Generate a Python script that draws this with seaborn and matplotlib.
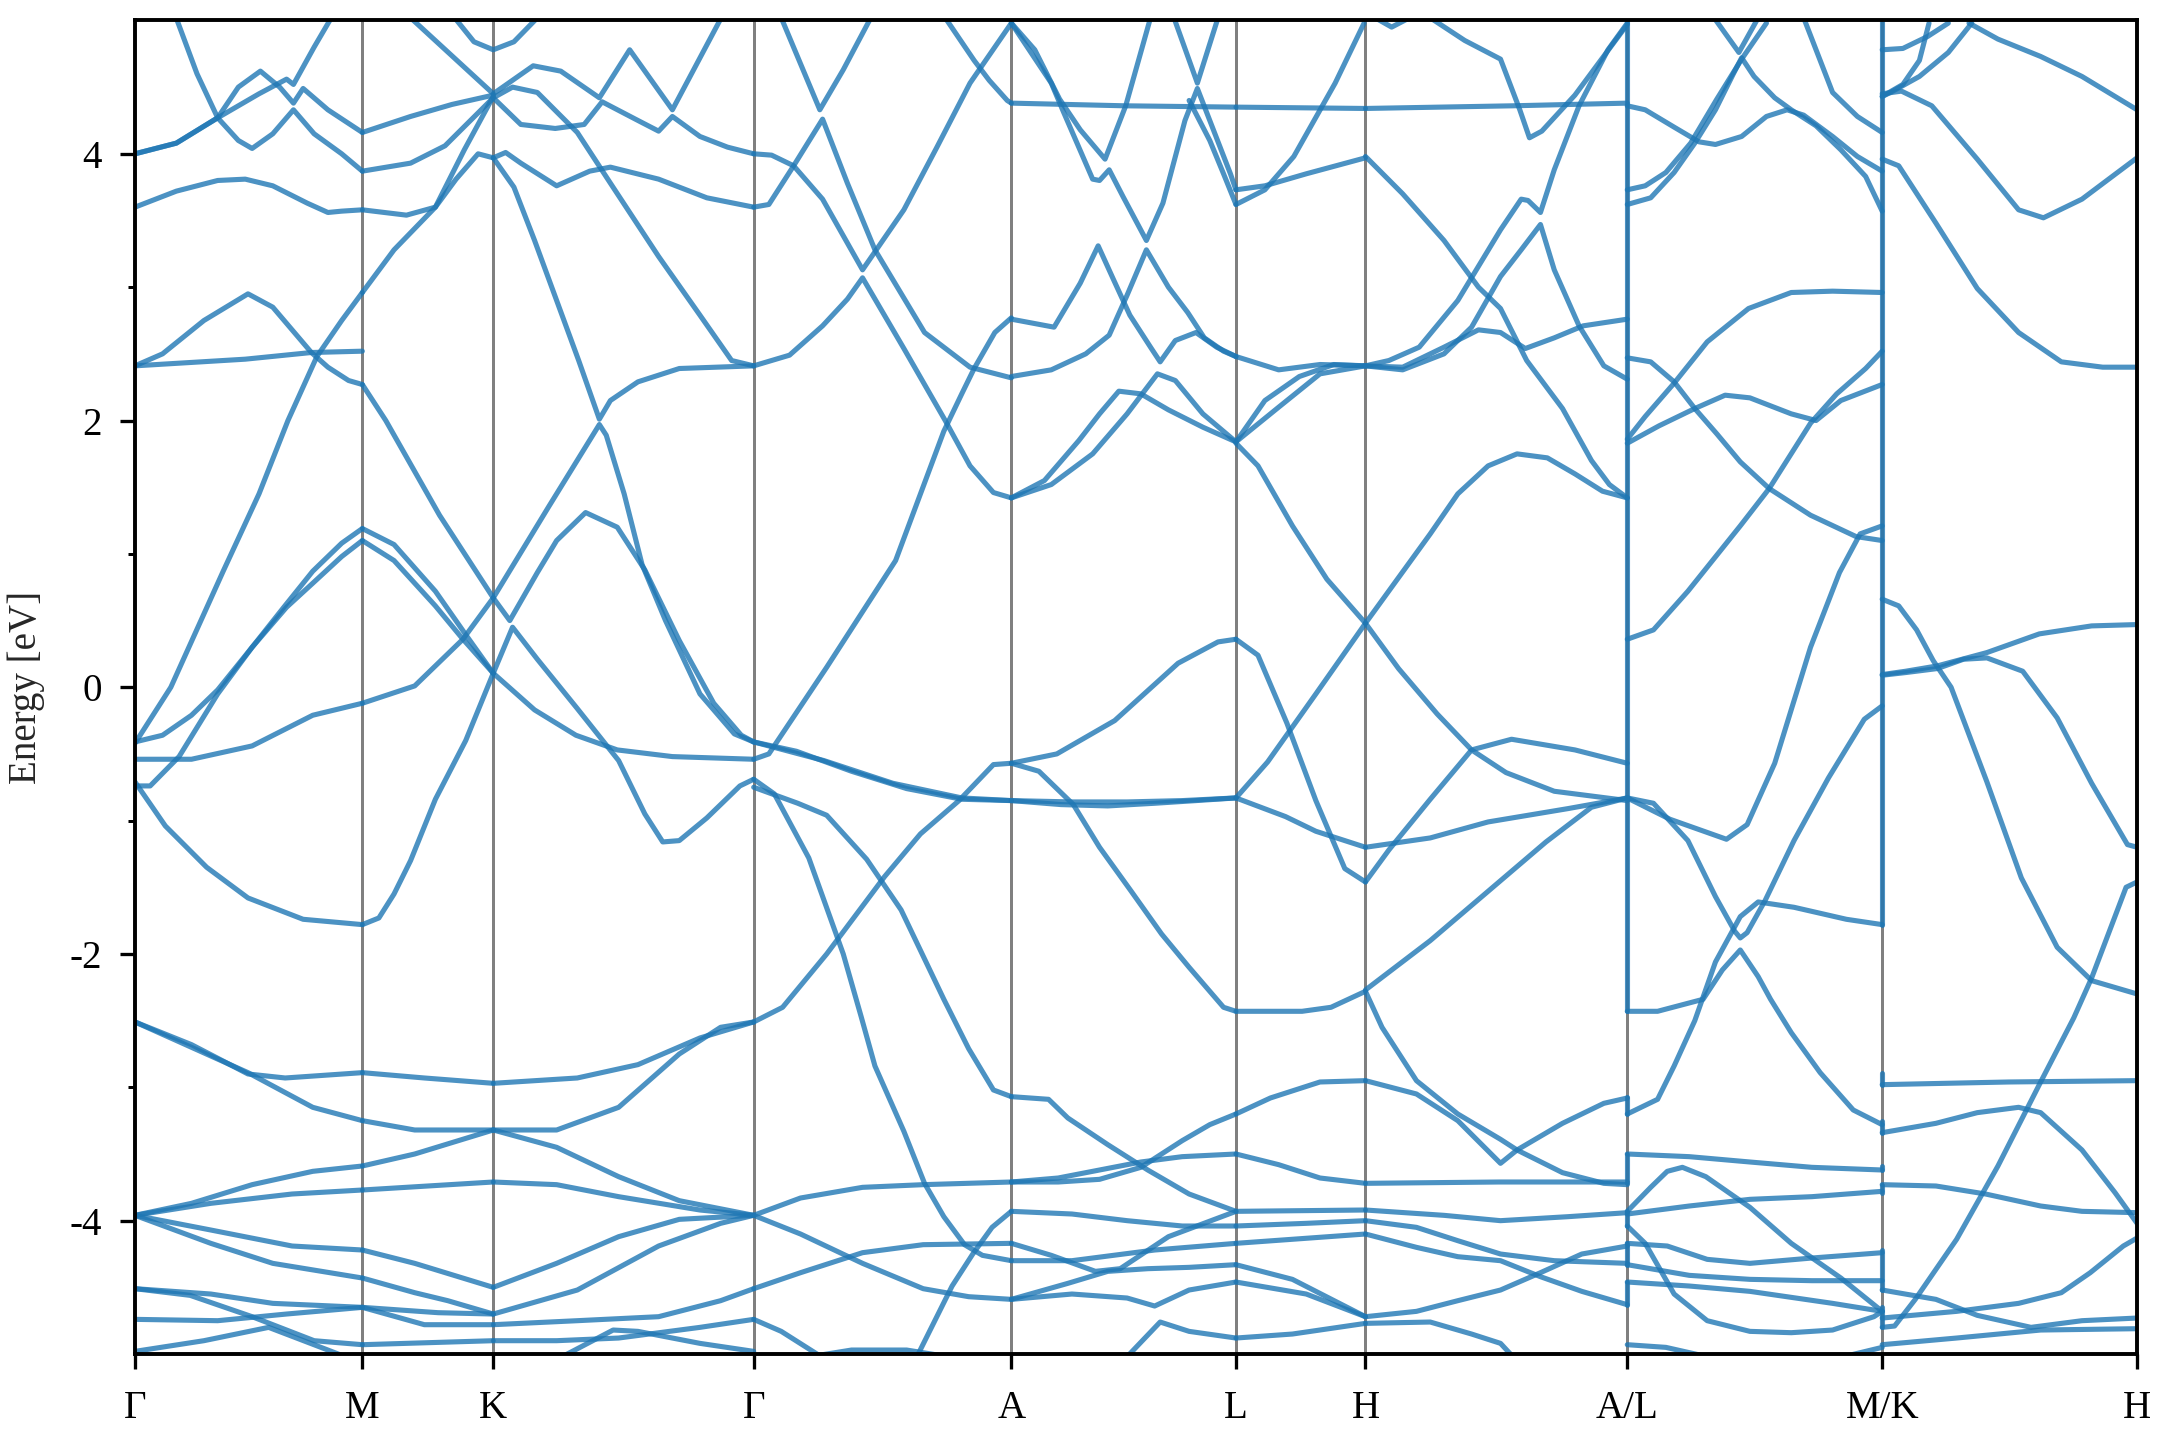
import matplotlib
matplotlib.use("Agg")
import matplotlib.pyplot as plt
import pandas as pd
import seaborn as sns

# high-symmetry points along the k-path
kpoints = [0.0, 0.165, 0.260, 0.449, 0.636, 0.799, 0.893, 1.083, 1.268, 1.453]
klabels = ["Γ", "M", "K", "Γ", "A", "L", "H", "A/L", "M/K", "H"]

# bands per segment, (k, E)
gm_bands = [
    [(0, 4.0), (0.03, 4.08), (0.06, 4.27), (0.09, 4.45), (0.11, 4.56), (0.115, 4.52), (0.13, 4.8), (0.147, 5.1)],
    [(0, 4.0), (0.03, 4.08), (0.06, 4.27), (0.075, 4.5), (0.091, 4.62), (0.105, 4.5), (0.115, 4.38), (0.122, 4.49), (0.14, 4.33), (0.165, 4.16)],
    [(0.027, 5.1), (0.045, 4.6), (0.06, 4.27), (0.075, 4.1), (0.085, 4.04), (0.1, 4.15), (0.115, 4.33), (0.13, 4.15), (0.15, 4.0), (0.165, 3.87)],
    [(0, 3.6), (0.03, 3.72), (0.06, 3.8), (0.08, 3.81), (0.1, 3.76), (0.125, 3.63), (0.14, 3.56), (0.15, 3.57), (0.165, 3.58)],
    [(0, 2.41), (0.02, 2.5), (0.05, 2.75), (0.082, 2.95), (0.1, 2.85), (0.128, 2.51), (0.14, 2.4), (0.155, 2.3), (0.165, 2.27)],
    [(0, 2.41), (0.08, 2.46), (0.128, 2.51), (0.165, 2.52)],
    [(0, -0.42), (0.026, 0.0), (0.064, 0.87), (0.09, 1.45), (0.111, 2.0), (0.132, 2.48), (0.15, 2.75), (0.165, 2.96)],
    [(0, -0.41), (0.02, -0.36), (0.041, -0.21), (0.06, -0.02), (0.085, 0.3), (0.108, 0.6), (0.129, 0.87), (0.15, 1.08), (0.165, 1.19)],
    [(0, -0.74), (0.011, -0.74), (0.032, -0.52), (0.06, -0.05), (0.085, 0.3), (0.11, 0.6), (0.129, 0.78), (0.15, 0.98), (0.165, 1.10)],
    [(0, -0.54), (0.041, -0.54), (0.085, -0.44), (0.129, -0.21), (0.165, -0.12)],
    [(0, -0.71), (0.022, -1.04), (0.052, -1.35), (0.082, -1.58), (0.122, -1.74), (0.165, -1.78)],
    [(0, -2.51), (0.041, -2.68), (0.082, -2.9), (0.109, -2.93), (0.165, -2.89)],
    [(0, -2.51), (0.041, -2.7), (0.082, -2.89), (0.129, -3.15), (0.165, -3.25)],
    [(0, -3.96), (0.041, -3.87), (0.085, -3.73), (0.129, -3.63), (0.165, -3.59)],
    [(0, -3.96), (0.055, -3.87), (0.114, -3.8), (0.165, -3.77)],
    [(0, -3.96), (0.055, -4.07), (0.114, -4.19), (0.165, -4.22)],
    [(0, -3.96), (0.055, -4.17), (0.1, -4.32), (0.165, -4.43)],
    [(0, -4.51), (0.055, -4.55), (0.1, -4.62), (0.165, -4.65)],
    [(0, -4.51), (0.04, -4.56), (0.085, -4.72), (0.13, -4.9), (0.165, -4.93)],
    [(0, -4.74), (0.06, -4.75), (0.11, -4.7), (0.165, -4.65)],
    [(0, -4.98), (0.05, -4.9), (0.097, -4.8), (0.14, -4.97), (0.16, -5.05)],
]

mk_bands = [
    [(0.165, 4.16), (0.2, 4.28), (0.23, 4.37), (0.26, 4.44)],
    [(0.165, 3.87), (0.2, 3.93), (0.225, 4.06), (0.26, 4.42)],
    [(0.165, 3.58), (0.197, 3.54), (0.218, 3.6), (0.233, 3.81), (0.249, 4.0), (0.26, 3.97)],
    [(0.165, 2.96), (0.188, 3.28), (0.218, 3.6), (0.239, 4.03), (0.26, 4.43)],
    [(0.2, 5.02), (0.26, 4.45)],
    [(0.232, 5.02), (0.246, 4.84), (0.26, 4.78), (0.275, 4.84), (0.292, 5.02)],
    [(0.165, 1.19), (0.188, 1.07), (0.218, 0.72), (0.241, 0.38), (0.26, 0.105)],
    [(0.165, 1.10), (0.188, 0.95), (0.218, 0.61), (0.238, 0.36), (0.26, 0.105)],
    [(0.165, -0.12), (0.203, 0.01), (0.238, 0.36), (0.26, 0.67)],
    [(0.165, 2.27), (0.182, 2.0), (0.221, 1.29), (0.26, 0.67)],
    [(0.165, -1.78), (0.177, -1.73), (0.188, -1.55), (0.2, -1.3), (0.218, -0.84), (0.24, -0.4), (0.26, 0.105)],
    [(0.165, -2.89), (0.21, -2.93), (0.26, -2.97)],
    [(0.165, -3.25), (0.203, -3.32), (0.26, -3.32)],
    [(0.165, -3.59), (0.203, -3.5), (0.26, -3.32)],
    [(0.165, -3.77), (0.26, -3.71)],
    [(0.165, -4.22), (0.203, -4.32), (0.26, -4.5)],
    [(0.165, -4.43), (0.203, -4.54), (0.227, -4.6), (0.26, -4.7)],
    [(0.165, -4.65), (0.21, -4.78), (0.26, -4.78)],
    [(0.165, -4.65), (0.22, -4.69), (0.26, -4.7)],
    [(0.165, -4.93), (0.26, -4.9)],
]

kg_bands = [
    [(0.26, 4.45), (0.289, 4.66), (0.309, 4.62), (0.337, 4.42), (0.359, 4.78), (0.39, 4.33), (0.427, 5.05)],
    [(0.26, 4.42), (0.28, 4.22), (0.305, 4.19), (0.326, 4.22), (0.339, 4.39), (0.365, 4.25), (0.38, 4.17), (0.39, 4.28), (0.41, 4.13), (0.43, 4.05), (0.449, 4.0)],
    [(0.26, 4.42), (0.274, 4.5), (0.292, 4.46), (0.321, 4.16), (0.345, 3.78), (0.38, 3.23), (0.41, 2.79), (0.433, 2.45), (0.449, 2.41)],
    [(0.26, 3.97), (0.269, 4.01), (0.28, 3.93), (0.306, 3.76), (0.33, 3.87), (0.345, 3.9), (0.38, 3.81), (0.415, 3.67), (0.449, 3.6)],
    [(0.26, 3.97), (0.275, 3.75), (0.29, 3.35), (0.306, 2.9), (0.322, 2.45), (0.337, 2.01), (0.345, 2.15), (0.365, 2.29), (0.395, 2.39), (0.449, 2.41)],
    [(0.26, 0.67), (0.272, 0.5), (0.292, 0.86), (0.306, 1.1), (0.327, 1.31), (0.35, 1.2), (0.37, 0.88), (0.395, 0.35), (0.42, -0.12), (0.44, -0.36), (0.449, -0.41)],
    [(0.26, 0.67), (0.3, 1.35), (0.337, 1.97), (0.342, 1.89), (0.355, 1.45), (0.368, 0.92), (0.385, 0.5), (0.41, -0.05), (0.435, -0.35), (0.449, -0.41)],
    [(0.26, 0.105), (0.274, 0.45), (0.292, 0.21), (0.321, -0.16), (0.351, -0.55), (0.37, -0.95), (0.383, -1.16), (0.395, -1.15), (0.415, -0.98), (0.439, -0.74), (0.449, -0.69)],
    [(0.26, 0.105), (0.29, -0.17), (0.32, -0.36), (0.35, -0.47), (0.39, -0.52), (0.449, -0.54)],
    [(0.26, -2.97), (0.321, -2.93), (0.365, -2.83), (0.41, -2.63), (0.449, -2.51)],
    [(0.26, -3.32), (0.306, -3.32), (0.351, -3.15), (0.395, -2.75), (0.425, -2.55), (0.449, -2.51)],
    [(0.26, -3.32), (0.306, -3.45), (0.351, -3.67), (0.395, -3.85), (0.449, -3.96)],
    [(0.26, -3.71), (0.306, -3.73), (0.351, -3.82), (0.41, -3.92), (0.449, -3.96)],
    [(0.26, -4.5), (0.306, -4.32), (0.351, -4.12), (0.395, -3.99), (0.449, -3.96)],
    [(0.26, -4.7), (0.321, -4.52), (0.38, -4.19), (0.425, -4.02), (0.449, -3.96)],
    [(0.26, -4.78), (0.321, -4.75), (0.38, -4.72), (0.425, -4.6), (0.449, -4.51)],
    [(0.26, -4.9), (0.306, -4.9), (0.351, -4.88), (0.41, -4.8), (0.449, -4.74)],
    [(0.31, -5.02), (0.347, -4.82), (0.365, -4.83), (0.41, -4.92), (0.449, -4.98)],
]

ga_bands = [
    [(0.449, 4.0), (0.462, 3.99), (0.478, 3.91), (0.499, 3.66), (0.528, 3.13), (0.558, 3.58), (0.582, 4.05), (0.606, 4.53), (0.636, 4.98)],
    [(0.449, 2.41), (0.475, 2.49), (0.499, 2.71), (0.517, 2.91), (0.528, 3.07), (0.558, 2.54), (0.588, 2.0), (0.606, 1.66), (0.623, 1.46), (0.636, 1.42)],
    [(0.449, 3.6), (0.46, 3.62), (0.478, 3.91), (0.499, 4.26), (0.517, 3.78), (0.537, 3.28), (0.573, 2.66), (0.606, 2.4), (0.636, 2.32)],
    [(0.469, 5.02), (0.497, 4.33), (0.514, 4.63), (0.534, 5.02)],
    [(0.588, 5.02), (0.609, 4.7), (0.62, 4.55), (0.633, 4.4), (0.636, 4.38)],
    [(0.449, -0.54), (0.46, -0.5), (0.502, 0.15), (0.552, 0.95), (0.587, 1.92), (0.6, 2.2), (0.609, 2.39), (0.624, 2.66), (0.636, 2.77)],
    [(0.449, -0.41), (0.48, -0.48), (0.52, -0.63), (0.56, -0.76), (0.6, -0.84), (0.636, -0.85)],
    [(0.449, -0.41), (0.5, -0.55), (0.55, -0.72), (0.6, -0.83), (0.636, -0.85)],
    [(0.449, -2.51), (0.47, -2.4), (0.502, -2.0), (0.544, -1.42), (0.57, -1.1), (0.598, -0.85), (0.623, -0.58), (0.636, -0.57)],
    [(0.449, -0.69), (0.464, -0.8), (0.489, -1.28), (0.514, -2.0), (0.527, -2.47), (0.537, -2.84), (0.558, -3.33), (0.573, -3.72), (0.587, -3.97), (0.602, -4.18), (0.615, -4.26), (0.636, -4.3)],
    [(0.449, -0.75), (0.481, -0.87), (0.502, -0.96), (0.531, -1.29), (0.556, -1.67), (0.587, -2.34), (0.605, -2.71), (0.623, -3.02), (0.636, -3.07)],
    [(0.449, -3.96), (0.483, -3.83), (0.528, -3.75), (0.572, -3.73), (0.636, -3.71)],
    [(0.449, -3.96), (0.483, -4.1), (0.528, -4.32), (0.572, -4.51), (0.605, -4.57), (0.636, -4.59)],
    [(0.449, -4.51), (0.483, -4.39), (0.528, -4.24), (0.572, -4.18), (0.636, -4.17)],
    [(0.566, -5.05), (0.593, -4.49), (0.608, -4.25), (0.622, -4.05), (0.636, -3.93)],
    [(0.449, -4.74), (0.469, -4.83), (0.498, -5.02)],
    [(0.49, -5.02), (0.52, -4.97), (0.56, -4.97), (0.59, -5.02)],
]

al_bands = [
    [(0.636, 4.38), (0.718, 4.36), (0.799, 4.35)],
    [(0.636, 4.98), (0.653, 4.78), (0.671, 4.41), (0.686, 4.18), (0.704, 3.96), (0.719, 4.36), (0.737, 5.02)],
    [(0.636, 4.98), (0.665, 4.53), (0.674, 4.31), (0.695, 3.81), (0.7, 3.8), (0.707, 3.88), (0.717, 3.68), (0.734, 3.35), (0.746, 3.63), (0.762, 4.25), (0.771, 4.49), (0.78, 4.25), (0.795, 3.85), (0.799, 3.73)],
    [(0.754, 5.02), (0.771, 4.53), (0.786, 5.02)],
    [(0.765, 4.4), (0.78, 4.1), (0.79, 3.85), (0.799, 3.62)],
    [(0.636, 2.76), (0.667, 2.7), (0.686, 3.03), (0.699, 3.31), (0.71, 3.06), (0.722, 2.79), (0.737, 2.55), (0.744, 2.44), (0.755, 2.6), (0.77, 2.66), (0.785, 2.55), (0.799, 2.48)],
    [(0.636, 2.33), (0.665, 2.38), (0.69, 2.5), (0.707, 2.64), (0.72, 2.94), (0.734, 3.28), (0.75, 3.0), (0.764, 2.81), (0.776, 2.62), (0.79, 2.52), (0.799, 2.48)],
    [(0.636, 1.42), (0.66, 1.55), (0.685, 1.85), (0.7, 2.05), (0.714, 2.22), (0.73, 2.2), (0.75, 2.08), (0.775, 1.95), (0.799, 1.84)],
    [(0.636, 1.42), (0.665, 1.52), (0.695, 1.75), (0.72, 2.05), (0.742, 2.35), (0.755, 2.3), (0.775, 2.05), (0.799, 1.84)],
    [(0.636, -0.57), (0.669, -0.5), (0.711, -0.25), (0.757, 0.18), (0.786, 0.34), (0.799, 0.36)],
    [(0.636, -0.85), (0.68, -0.86), (0.72, -0.86), (0.76, -0.85), (0.799, -0.83)],
    [(0.636, -0.85), (0.672, -0.88), (0.706, -0.89), (0.74, -0.87), (0.77, -0.85), (0.799, -0.83)],
    [(0.636, -0.57), (0.656, -0.63), (0.681, -0.88), (0.7, -1.2), (0.723, -1.53), (0.745, -1.85), (0.765, -2.1), (0.79, -2.4), (0.799, -2.43)],
    [(0.636, -3.07), (0.663, -3.09), (0.677, -3.23), (0.706, -3.43), (0.735, -3.62), (0.765, -3.8), (0.799, -3.93)],
    [(0.636, -3.71), (0.67, -3.68), (0.7, -3.62), (0.73, -3.56), (0.76, -3.52), (0.799, -3.5)],
    [(0.636, -3.71), (0.67, -3.71), (0.7, -3.69), (0.73, -3.6), (0.76, -3.4), (0.78, -3.28), (0.799, -3.2)],
    [(0.636, -3.93), (0.68, -3.95), (0.72, -4.0), (0.76, -4.04), (0.799, -4.04)],
    [(0.636, -4.17), (0.665, -4.26), (0.697, -4.38), (0.715, -4.36), (0.75, -4.12), (0.799, -3.93)],
    [(0.636, -4.3), (0.68, -4.3), (0.74, -4.22), (0.799, -4.17)],
    [(0.636, -4.59), (0.677, -4.47), (0.706, -4.38), (0.735, -4.36), (0.765, -4.35), (0.799, -4.33)],
    [(0.636, -4.59), (0.68, -4.55), (0.72, -4.58), (0.74, -4.64), (0.765, -4.52), (0.799, -4.46)],
    [(0.72, -5.02), (0.744, -4.76), (0.765, -4.83), (0.799, -4.88)],
]

lh_bands = [
    [(0.799, 4.35), (0.893, 4.34)],
    [(0.799, 3.73), (0.82, 3.76), (0.85, 3.85), (0.893, 3.97)],
    [(0.799, 3.62), (0.82, 3.73), (0.841, 3.98), (0.871, 4.53), (0.892, 4.98)],
    [(0.799, 2.48), (0.83, 2.38), (0.86, 2.42), (0.893, 2.41)],
    [(0.799, 1.84), (0.83, 2.1), (0.86, 2.35), (0.893, 2.41)],
    [(0.799, 1.84), (0.82, 2.15), (0.845, 2.33), (0.87, 2.42), (0.893, 2.41)],
    [(0.799, 1.83), (0.815, 1.66), (0.84, 1.21), (0.865, 0.81), (0.893, 0.48)],
    [(0.799, 0.36), (0.815, 0.24), (0.836, -0.27), (0.857, -0.85), (0.878, -1.36), (0.893, -1.46)],
    [(0.799, -0.83), (0.822, -0.56), (0.857, -0.05), (0.893, 0.48)],
    [(0.799, -0.83), (0.835, -0.97), (0.857, -1.08), (0.893, -1.2)],
    [(0.799, -2.43), (0.847, -2.43), (0.868, -2.4), (0.893, -2.28)],
    [(0.799, -3.2), (0.824, -3.08), (0.86, -2.96), (0.893, -2.95)],
    [(0.799, -3.5), (0.83, -3.58), (0.86, -3.68), (0.893, -3.72)],
    [(0.799, -3.93), (0.893, -3.92)],
    [(0.799, -4.04), (0.85, -4.02), (0.893, -4.0)],
    [(0.799, -4.17), (0.893, -4.1)],
    [(0.799, -4.33), (0.84, -4.44), (0.893, -4.72)],
    [(0.799, -4.46), (0.85, -4.55), (0.893, -4.72)],
    [(0.799, -4.88), (0.84, -4.85), (0.893, -4.77)],
]

ha_bands = [
    [(0.893, 4.34), (1.0, 4.36), (1.083, 4.38)],
    [(0.9, 5.02), (0.912, 4.95), (0.925, 5.02)],
    [(0.893, 3.98), (0.92, 3.7), (0.95, 3.35), (0.975, 3.0), (0.991, 2.84), (1.01, 2.45), (1.036, 2.09), (1.057, 1.7), (1.07, 1.52), (1.083, 1.42)],
    [(0.893, 2.41), (0.92, 2.4), (0.95, 2.55), (0.975, 2.68), (0.991, 2.66), (1.009, 2.54), (1.03, 2.62), (1.051, 2.71), (1.083, 2.76)],
    [(0.893, 2.41), (0.91, 2.45), (0.932, 2.55), (0.96, 2.9), (0.991, 3.43), (1.006, 3.66), (1.011, 3.65), (1.02, 3.56), (1.03, 3.88), (1.048, 4.36), (1.069, 4.78), (1.083, 4.98)],
    [(0.893, 2.41), (0.92, 2.38), (0.95, 2.5), (0.97, 2.7), (0.991, 3.08), (1.006, 3.28), (1.02, 3.47), (1.03, 3.13), (1.048, 2.71), (1.066, 2.41), (1.083, 2.31)],
    [(0.94, 5.02), (0.965, 4.85), (0.991, 4.71), (1.005, 4.33), (1.012, 4.12), (1.021, 4.17), (1.045, 4.44), (1.083, 4.97)],
    [(0.893, 0.48), (0.94, 1.15), (0.96, 1.45), (0.982, 1.66), (1.003, 1.75), (1.025, 1.72), (1.045, 1.6), (1.065, 1.47), (1.083, 1.42)],
    [(0.893, 0.48), (0.917, 0.14), (0.945, -0.2), (0.97, -0.47), (0.999, -0.39), (1.045, -0.47), (1.083, -0.57)],
    [(0.893, -1.46), (0.91, -1.22), (0.94, -0.84), (0.97, -0.47), (0.995, -0.64), (1.03, -0.78), (1.083, -0.85)],
    [(0.893, -1.2), (0.94, -1.13), (0.982, -1.01), (1.04, -0.91), (1.083, -0.83)],
    [(0.893, -2.27), (0.94, -1.9), (0.982, -1.53), (1.024, -1.16), (1.057, -0.9), (1.083, -0.83)],
    [(0.893, -2.95), (0.93, -3.05), (0.96, -3.25), (0.991, -3.57), (1.003, -3.47), (1.036, -3.27), (1.066, -3.12), (1.083, -3.08)],
    [(0.893, -2.28), (0.905, -2.55), (0.93, -2.95), (0.96, -3.2), (0.991, -3.39), (1.003, -3.47), (1.036, -3.64), (1.066, -3.72), (1.083, -3.73)],
    [(0.893, -3.72), (0.99, -3.71), (1.083, -3.71)],
    [(0.893, -3.92), (0.95, -3.96), (0.991, -4.0), (1.04, -3.97), (1.083, -3.94)],
    [(0.893, -4.0), (0.93, -4.05), (0.96, -4.15), (0.991, -4.25), (1.03, -4.3), (1.083, -4.32)],
    [(0.893, -4.1), (0.93, -4.2), (0.96, -4.27), (0.991, -4.3), (1.02, -4.42), (1.05, -4.53), (1.083, -4.63)],
    [(0.893, -4.72), (0.93, -4.68), (0.96, -4.6), (0.991, -4.52), (1.02, -4.39), (1.05, -4.25), (1.083, -4.19)],
    [(0.893, -4.77), (0.94, -4.76), (0.97, -4.85), (0.991, -4.92), (1.0, -5.02)],
]

lm_bands = [
    [(1.083, 4.36), (1.096, 4.33), (1.117, 4.2), (1.135, 4.09), (1.147, 4.07), (1.166, 4.13), (1.184, 4.28), (1.199, 4.33), (1.211, 4.29), (1.232, 4.13), (1.25, 3.98), (1.268, 3.87)],
    [(1.083, 3.73), (1.096, 3.76), (1.111, 3.86), (1.129, 4.08), (1.148, 4.41), (1.166, 4.71), (1.184, 4.98)],
    [(1.083, 3.62), (1.1, 3.67), (1.117, 3.86), (1.132, 4.08), (1.147, 4.33), (1.16, 4.6), (1.166, 4.72), (1.175, 4.58), (1.19, 4.42), (1.202, 4.33), (1.22, 4.21), (1.238, 4.03), (1.256, 3.83), (1.268, 3.57)],
    [(1.146, 5.02), (1.164, 4.76), (1.178, 5.02)],
    [(1.211, 5.02), (1.232, 4.46), (1.25, 4.28), (1.268, 4.16)],
    [(1.083, 0.36), (1.102, 0.43), (1.127, 0.72), (1.165, 1.21), (1.186, 1.49), (1.216, 1.98), (1.235, 2.2), (1.256, 2.39), (1.268, 2.52)],
    [(1.083, 2.47), (1.1, 2.44), (1.117, 2.29), (1.132, 2.09), (1.148, 1.9), (1.165, 1.69), (1.186, 1.49), (1.216, 1.29), (1.249, 1.13), (1.268, 1.10)],
    [(1.083, 1.83), (1.106, 1.96), (1.132, 2.09), (1.154, 2.19), (1.172, 2.17), (1.202, 2.05), (1.22, 2.0), (1.238, 2.15), (1.268, 2.27)],
    [(1.083, 1.86), (1.096, 2.03), (1.117, 2.28), (1.141, 2.59), (1.171, 2.84), (1.202, 2.96), (1.232, 2.97), (1.268, 2.96)],
    [(1.083, -0.83), (1.114, -0.99), (1.155, -1.14), (1.17, -1.03), (1.19, -0.57), (1.216, 0.3), (1.237, 0.86), (1.252, 1.15), (1.268, 1.21)],
    [(1.083, -0.83), (1.102, -0.87), (1.127, -1.15), (1.147, -1.57), (1.161, -1.83), (1.165, -1.88), (1.17, -1.84), (1.183, -1.6), (1.204, -1.15), (1.229, -0.68), (1.255, -0.24), (1.268, -0.14)],
    [(1.083, -2.43), (1.105, -2.43), (1.138, -2.34), (1.152, -2.12), (1.165, -1.97), (1.178, -2.17), (1.187, -2.34), (1.202, -2.59), (1.223, -2.89), (1.247, -3.17), (1.268, -3.28)],
    [(1.083, -3.2), (1.105, -3.09), (1.117, -2.84), (1.132, -2.5), (1.147, -2.06), (1.165, -1.72), (1.178, -1.61), (1.204, -1.65), (1.242, -1.74), (1.268, -1.78)],
    [(1.083, -3.5), (1.128, -3.52), (1.172, -3.56), (1.217, -3.6), (1.268, -3.62)],
    [(1.083, -3.93), (1.1, -3.75), (1.112, -3.63), (1.123, -3.6), (1.14, -3.67), (1.172, -3.9), (1.202, -4.17), (1.238, -4.43), (1.268, -4.68)],
    [(1.083, -4.04), (1.096, -4.17), (1.117, -4.55), (1.141, -4.75), (1.172, -4.83), (1.202, -4.84), (1.232, -4.82), (1.262, -4.72), (1.268, -4.68)],
    [(1.083, -3.95), (1.128, -3.89), (1.172, -3.84), (1.217, -3.82), (1.268, -3.78)],
    [(1.083, -4.17), (1.112, -4.19), (1.141, -4.29), (1.172, -4.32), (1.217, -4.28), (1.268, -4.24)],
    [(1.083, -4.33), (1.128, -4.41), (1.172, -4.44), (1.217, -4.45), (1.268, -4.45)],
    [(1.083, -4.46), (1.128, -4.49), (1.172, -4.53), (1.232, -4.62), (1.268, -4.68)],
    [(1.083, -4.93), (1.111, -4.95), (1.141, -5.02)],
    [(1.24, -5.02), (1.268, -4.95)],
]

kh_bands = [
    [(1.268, 4.78), (1.283, 4.79), (1.301, 4.88), (1.316, 4.98)],
    [(1.268, 4.43), (1.283, 4.52), (1.295, 4.7), (1.302, 4.98)],
    [(1.268, 4.43), (1.274, 4.46), (1.295, 4.58), (1.316, 4.76), (1.333, 4.98)],
    [(1.268, 4.45), (1.282, 4.47), (1.304, 4.36), (1.337, 3.96), (1.367, 3.58), (1.385, 3.52), (1.413, 3.66), (1.453, 3.97)],
    [(1.331, 4.98), (1.352, 4.86), (1.383, 4.73), (1.413, 4.58), (1.437, 4.43), (1.453, 4.33)],
    [(1.268, 3.96), (1.28, 3.91), (1.307, 3.48), (1.337, 2.99), (1.367, 2.66), (1.398, 2.44), (1.428, 2.4), (1.453, 2.4)],
    [(1.268, 0.66), (1.28, 0.61), (1.293, 0.43), (1.305, 0.2), (1.318, 0.0), (1.344, -0.71), (1.369, -1.43), (1.395, -1.95), (1.42, -2.2), (1.453, -2.3)],
    [(1.268, 0.095), (1.285, 0.12), (1.308, 0.16), (1.344, 0.26), (1.382, 0.4), (1.42, 0.46), (1.453, 0.47)],
    [(1.268, 0.09), (1.285, 0.11), (1.308, 0.14), (1.327, 0.21), (1.344, 0.22), (1.37, 0.12), (1.395, -0.23), (1.42, -0.72), (1.446, -1.18), (1.453, -1.2)],
    [(1.453, -1.46), (1.445, -1.5), (1.42, -2.18), (1.407, -2.48), (1.383, -2.96), (1.352, -3.59), (1.322, -4.14), (1.292, -4.59), (1.277, -4.79), (1.268, -4.8)],
    [(1.268, -2.98), (1.36, -2.96), (1.453, -2.95)],
    [(1.268, -3.34), (1.307, -3.27), (1.337, -3.19), (1.367, -3.15), (1.383, -3.19), (1.413, -3.47), (1.437, -3.79), (1.453, -4.02)],
    [(1.268, -3.73), (1.307, -3.74), (1.343, -3.8), (1.383, -3.89), (1.413, -3.93), (1.453, -3.94)],
    [(1.268, -4.52), (1.307, -4.59), (1.337, -4.71), (1.376, -4.8), (1.413, -4.75), (1.453, -4.73)],
    [(1.268, -4.73), (1.322, -4.68), (1.367, -4.62), (1.398, -4.54), (1.419, -4.39), (1.443, -4.19), (1.453, -4.13)],
    [(1.268, -4.93), (1.322, -4.88), (1.383, -4.82), (1.453, -4.81)],
]

# vertical jumps where the path is discontinuous (A|L and M|K)
al_jumps = [(-2.43, 5.02), (-3.2, -3.07), (-3.72, -3.5), (-4.04, -3.93), (-4.33, -4.17), (-4.63, -4.46)]
mk_jumps = [(-1.78, 5.02), (-2.98, -2.89), (-3.34, -3.25), (-3.62, -3.59), (-3.79, -3.73), (-4.52, -4.22), (-4.8, -4.65)]

segments = [gm_bands, mk_bands, kg_bands, ga_bands, al_bands, lh_bands, ha_bands, lm_bands, kh_bands]

rows = []
for s, seg in enumerate(segments):
    for b, band in enumerate(seg):
        for k, e in band:
            rows.append((f"s{s}b{b}", k, e))
for name, kk, jumps in [("al", kpoints[7], al_jumps), ("mk", kpoints[8], mk_jumps)]:
    for j, (lo, hi) in enumerate(jumps):
        rows.append((f"{name}{j}", kk, lo))
        rows.append((f"{name}{j}", kk, hi))
df = pd.DataFrame(rows, columns=["band", "k", "E"])

sns.set_theme(style="ticks")
plt.rcParams["font.family"] = ["Liberation Serif", "DejaVu Serif"]
plt.rcParams["axes.unicode_minus"] = False

fig, ax = plt.subplots(figsize=(10, 20 / 3), dpi=216)
fig.subplots_adjust(left=0.0625, right=0.9894, bottom=0.0597, top=0.9858)

for k in kpoints[1:-1]:
    ax.axvline(k, color="gray", lw=1.0, zorder=1)

sns.lineplot(data=df, x="k", y="E", units="band", estimator=None, sort=False,
             color="#1f77b4", alpha=0.8, lw=1.7, ax=ax, legend=False, zorder=2)

ax.set_xlim(kpoints[0], kpoints[-1])
ax.set_ylim(-5, 5)
ax.set_xticks(kpoints)
ax.set_xticklabels(klabels)
ax.set_yticks([-4, -2, 0, 2, 4])
ax.set_yticks([-3, -1, 1, 3], minor=True)
ax.set_xlabel("")
ax.set_ylabel("Energy [eV]", fontsize=13, labelpad=8)
ax.tick_params(axis="both", which="major", direction="out", length=5, width=1.1, labelsize=13, color="black", labelcolor="black")
ax.tick_params(axis="x", pad=7)
ax.tick_params(axis="y", pad=6)
ax.tick_params(axis="y", which="minor", direction="out", length=2.5, width=1.0, color="black")
for sp in ax.spines.values():
    sp.set_linewidth(1.3)
    sp.set_color("black")

fig.savefig("out.png", dpi=216)
